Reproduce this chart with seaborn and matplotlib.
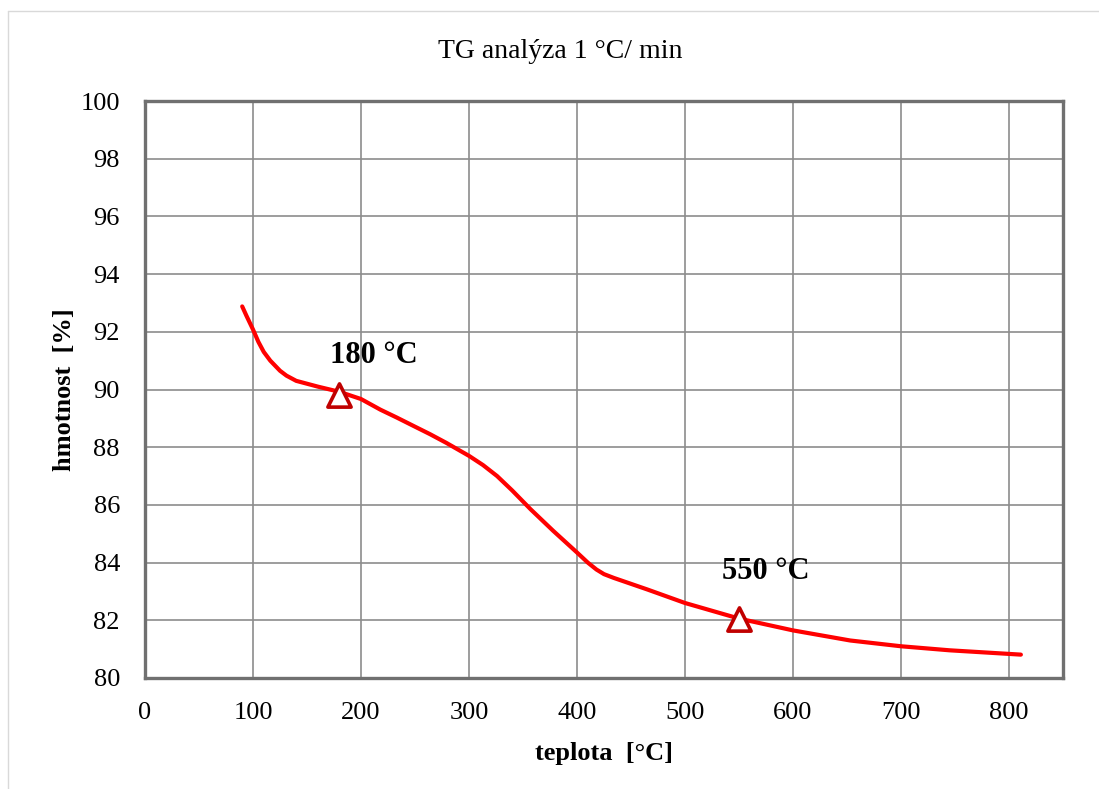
import matplotlib
matplotlib.use("Agg")
import matplotlib.pyplot as plt
import seaborn as sns
import pandas as pd
from matplotlib.lines import Line2D


# curve
temperature = [90, 94, 100, 105, 110, 116, 125, 131, 140, 160, 180, 200, 218,
               233, 249, 264, 279, 300, 313, 326, 340, 357, 378, 400, 410,
               418, 425, 434, 465, 500, 550, 600, 653, 700, 745, 811]
mass = [92.88, 92.55, 92.08, 91.65, 91.3, 91.0, 90.65, 90.48, 90.3, 90.1,
        89.92, 89.67, 89.3, 89.03, 88.73, 88.45, 88.15, 87.7, 87.38, 87.0,
        86.5, 85.85, 85.1, 84.35, 84.0, 83.76, 83.6, 83.47, 83.07, 82.6,
        82.06, 81.65, 81.3, 81.1, 80.96, 80.81]

marker_temps = [180, 550]
marker_mass = [89.8, 82.06]
marker_labels = ["180 °C", "550 °C"]
label_pos = [(212, 91.18), (575, 83.68)]

x_ticks = [0, 100, 200, 300, 400, 500, 600, 700, 800]
y_ticks = [80, 82, 84, 86, 88, 90, 92, 94, 96, 98, 100]

sns.set_style("whitegrid")
plt.rcParams["font.family"] = ["Liberation Serif", "DejaVu Serif"]
plt.rcParams["text.color"] = "black"
plt.rcParams["axes.labelcolor"] = "black"

curve = pd.DataFrame({"teplota": temperature, "hmotnost": mass})
points = pd.DataFrame({"teplota": marker_temps, "hmotnost": marker_mass})

fig = plt.figure(figsize=(10.99, 7.89), dpi=100)
ax = fig.add_axes([145 / 1099, 1 - 678 / 789, (1063 - 145) / 1099, (678 - 101) / 789])

sns.lineplot(data=curve, x="teplota", y="hmotnost", ax=ax,
             color="#ff0000", linewidth=3.0, sort=False)
sns.scatterplot(data=points, x="teplota", y="hmotnost", ax=ax,
                marker="^", s=280, facecolor="white",
                edgecolor="#c00000", linewidth=2.6, zorder=5)

for (lx, ly), text in zip(label_pos, marker_labels):
    ax.text(lx, ly, text, ha="center", va="center",
            fontsize=22, fontweight="bold", color="black")

ax.set_xlim(0, 850)
ax.set_ylim(80, 100)
ax.set_xticks(x_ticks)
ax.set_yticks(y_ticks)
ax.tick_params(axis="both", length=0, labelsize=19, colors="black")
ax.tick_params(axis="y", pad=18)
ax.tick_params(axis="x", pad=17)
ax.grid(True, color="#8c8c8c", linewidth=1.2)
for spine in ax.spines.values():
    spine.set_color("#707070")
    spine.set_linewidth(2.4)

ax.set_xlabel("teplota  [°C]", fontsize=19, fontweight="bold", labelpad=13,
              color="black")
ax.set_ylabel("hmotnost  [%]", fontsize=19, fontweight="bold", labelpad=3,
              color="black")

fig.text(560 / 1099, 1 - 51 / 789, "TG analýza 1 °C/ min",
         ha="center", va="center", fontsize=20, color="black")

# light chart-area border (left and top only visible)
fig.add_artist(Line2D([8 / 1099, 8 / 1099], [0, 1 - 11 / 789],
                      transform=fig.transFigure, color="#d9d9d9", linewidth=1))
fig.add_artist(Line2D([8 / 1099, 1], [1 - 11 / 789, 1 - 11 / 789],
                      transform=fig.transFigure, color="#d9d9d9", linewidth=1))

fig.savefig("out.png", dpi=100)
